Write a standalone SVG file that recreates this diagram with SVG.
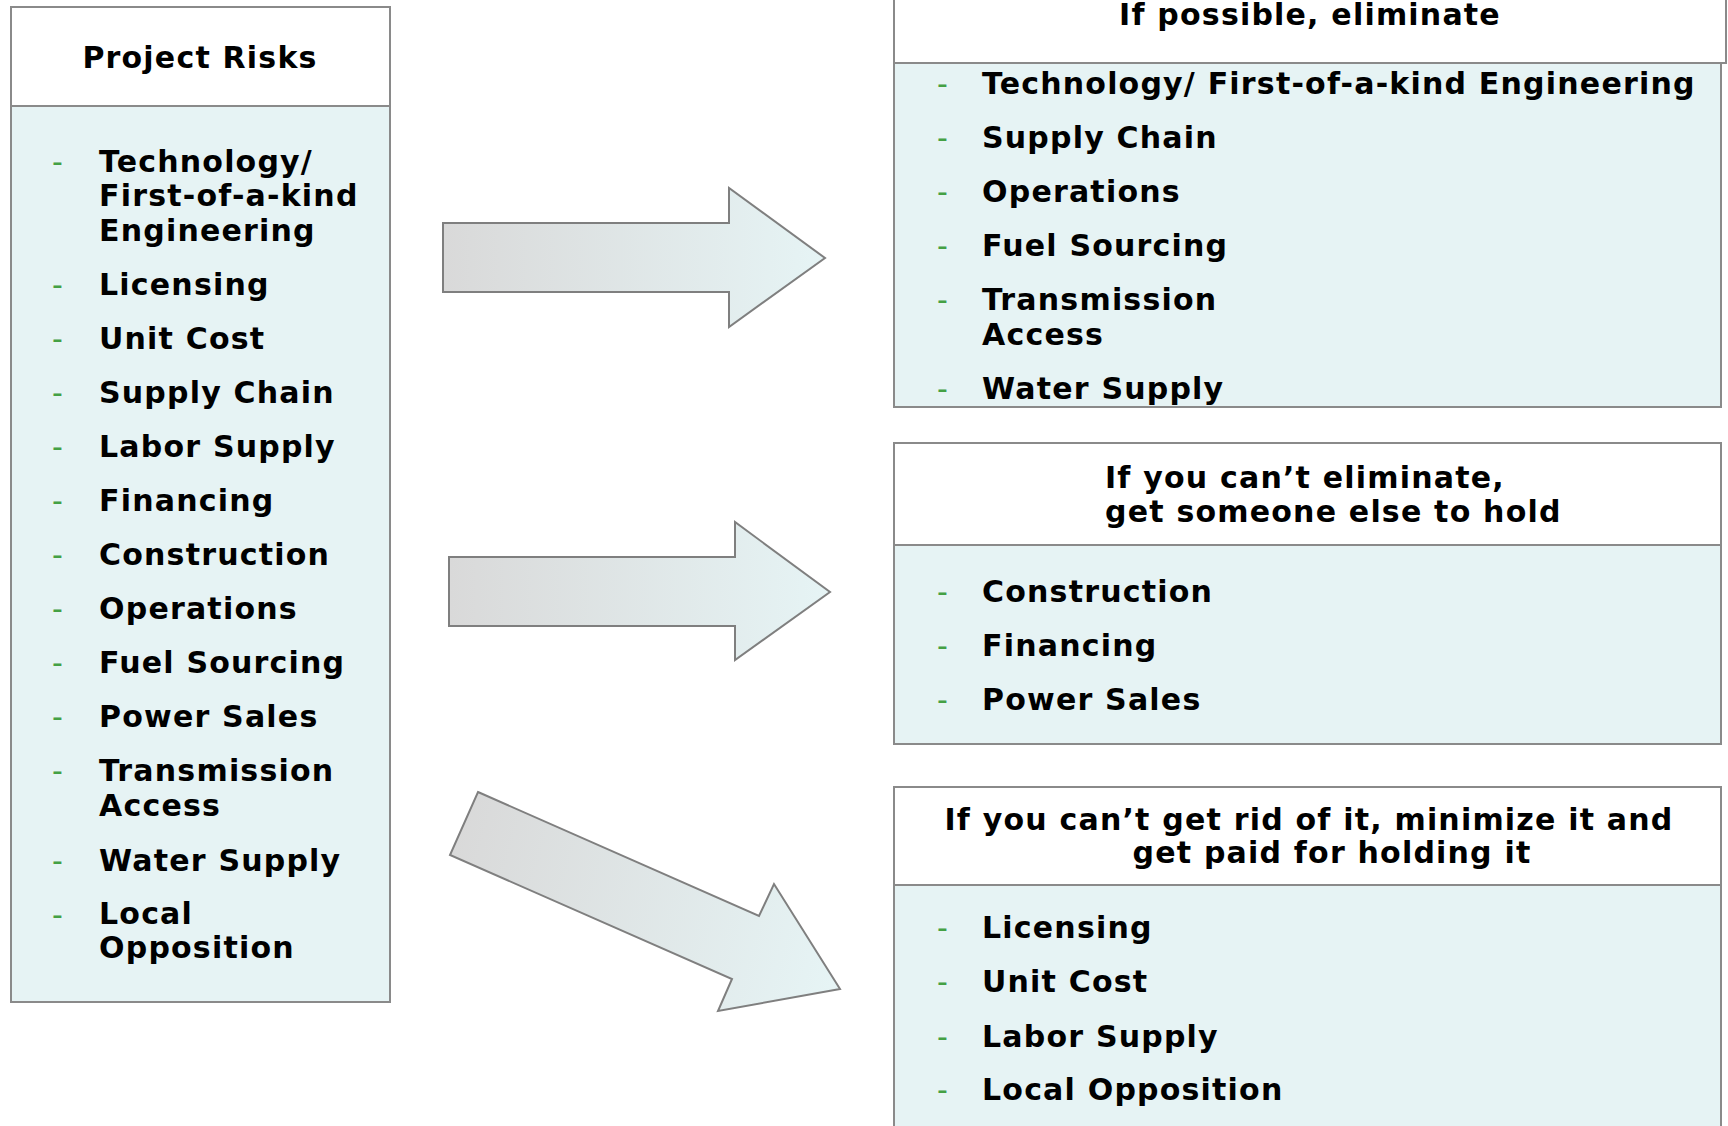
<svg xmlns="http://www.w3.org/2000/svg" width="1728" height="1126" viewBox="0 0 1728 1126">
<defs>
<linearGradient id="ag" x1="0" y1="0" x2="1" y2="0">
<stop offset="0" stop-color="#d9d9d9"/>
<stop offset="1" stop-color="#e6f4f5"/>
</linearGradient>
<linearGradient id="ag3" gradientUnits="userSpaceOnUse" x1="450" y1="850" x2="840" y2="960">
<stop offset="0" stop-color="#d9d9d9"/>
<stop offset="1" stop-color="#e6f4f5"/>
</linearGradient>
<style>
.hd{fill:#ffffff;stroke:#8a8a8a;stroke-width:2}
.bd{fill:#e6f3f4;stroke:#8a8a8a;stroke-width:2}
.t{font-family:"DejaVu Sans","Verdana",sans-serif;font-weight:bold;font-size:30px;fill:#000000;letter-spacing:1.2px}
.d{font-family:"DejaVu Sans","Verdana",sans-serif;font-weight:normal;font-size:30px;fill:#44a044}
.arr{stroke:#7f7f7f;stroke-width:2;stroke-linejoin:miter}
</style>
</defs>
<rect width="1728" height="1126" fill="#ffffff"/>

<g id="project-risks">
<rect class="hd" x="11" y="7" width="379" height="99"/>
<rect class="bd" x="11" y="106" width="379" height="896"/>
<text class="t" x="200" y="68" text-anchor="middle">Project Risks</text>
<g class="d">
<text x="52" y="172">-</text><text x="52" y="295">-</text><text x="52" y="349">-</text><text x="52" y="403">-</text><text x="52" y="457">-</text><text x="52" y="511">-</text><text x="52" y="565">-</text><text x="52" y="619">-</text><text x="52" y="673">-</text><text x="52" y="727">-</text><text x="52" y="781">-</text><text x="52" y="871">-</text><text x="52" y="925">-</text>
</g>
<g class="t">
<text x="99" y="172">Technology/</text>
<text x="99" y="206">First-of-a-kind</text>
<text x="99" y="241">Engineering</text>
<text x="99" y="295">Licensing</text>
<text x="99" y="349">Unit Cost</text>
<text x="99" y="403">Supply Chain</text>
<text x="99" y="457">Labor Supply</text>
<text x="99" y="511">Financing</text>
<text x="99" y="565">Construction</text>
<text x="99" y="619">Operations</text>
<text x="99" y="673">Fuel Sourcing</text>
<text x="99" y="727">Power Sales</text>
<text x="99" y="781">Transmission</text>
<text x="99" y="816">Access</text>
<text x="99" y="871">Water Supply</text>
<text x="99" y="924">Local</text>
<text x="99" y="958">Opposition</text>
</g>
</g>

<g id="eliminate">
<rect class="hd" x="894" y="-30" width="832" height="93"/>
<rect class="bd" x="894" y="63" width="827" height="344"/>
<text class="t" x="1310" y="25" text-anchor="middle">If possible, eliminate</text>
<g class="d">
<text x="937" y="94">-</text><text x="937" y="148">-</text><text x="937" y="202">-</text><text x="937" y="256">-</text><text x="937" y="310">-</text><text x="937" y="399">-</text>
</g>
<g class="t">
<text x="982" y="94">Technology/ First-of-a-kind Engineering</text>
<text x="982" y="148">Supply Chain</text>
<text x="982" y="202">Operations</text>
<text x="982" y="256">Fuel Sourcing</text>
<text x="982" y="310">Transmission</text>
<text x="982" y="345">Access</text>
<text x="982" y="399">Water Supply</text>
</g>
</g>

<g id="transfer">
<rect class="hd" x="894" y="443" width="827" height="102"/>
<rect class="bd" x="894" y="545" width="827" height="199"/>
<text class="t" x="1105" y="488">If you can’t eliminate,</text>
<text class="t" x="1105" y="522">get someone else to hold</text>
<g class="d">
<text x="937" y="602">-</text><text x="937" y="656">-</text><text x="937" y="710">-</text>
</g>
<g class="t">
<text x="982" y="602">Construction</text>
<text x="982" y="656">Financing</text>
<text x="982" y="710">Power Sales</text>
</g>
</g>

<g id="minimize">
<rect class="hd" x="894" y="787" width="827" height="98"/>
<rect class="bd" x="894" y="885" width="827" height="260"/>
<text class="t" x="1309" y="830" text-anchor="middle">If you can’t get rid of it, minimize it and</text>
<text class="t" x="1332" y="863" text-anchor="middle">get paid for holding it</text>
<g class="d">
<text x="937" y="938">-</text><text x="937" y="992">-</text><text x="937" y="1047">-</text><text x="937" y="1100">-</text>
</g>
<g class="t">
<text x="982" y="938">Licensing</text>
<text x="982" y="992">Unit Cost</text>
<text x="982" y="1047">Labor Supply</text>
<text x="982" y="1100">Local Opposition</text>
</g>
</g>

<g id="connectors">
<polygon class="arr" fill="url(#ag)" points="443,223 729,223 729,188 825,258 729,327 729,292 443,292"/>
<polygon class="arr" fill="url(#ag)" points="449,557 735,557 735,522 830,592 735,660 735,626 449,626"/>
<polygon class="arr" fill="url(#ag3)" points="478,792 759,916 774,884 840,989 718,1011 732,979 450,855"/>
</g>
</svg>
